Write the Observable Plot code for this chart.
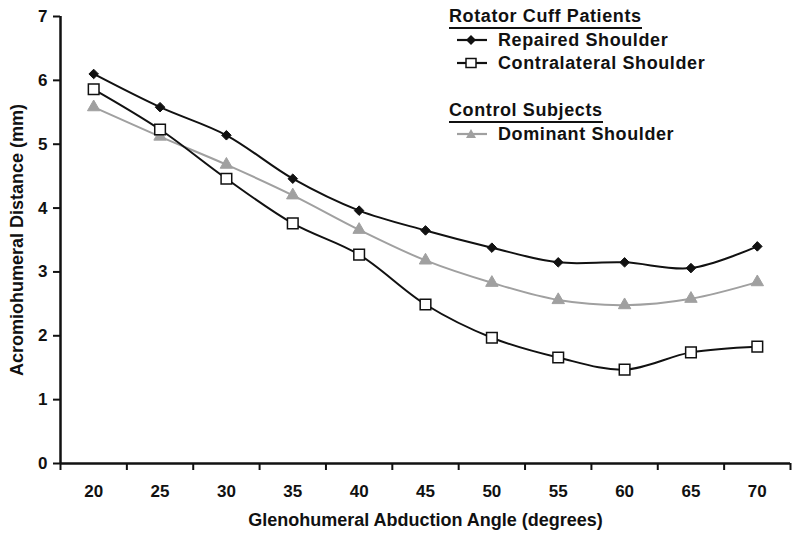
<!DOCTYPE html>
<html>
<head>
<meta charset="utf-8">
<script src="https://cdn.jsdelivr.net/npm/d3@7"></script>
<script src="https://cdn.jsdelivr.net/npm/@observablehq/plot@0.6"></script>
<style>
  html, body { margin: 0; padding: 0; background: #fff; }
  #wrap { position: relative; width: 800px; height: 537px; font-family: "Liberation Sans", Arial, sans-serif; font-weight: bold; color: #111; }
  .lg { position: absolute; font-size: 18px; line-height: 20px; height: 20px; white-space: nowrap; letter-spacing: 0.6px; }
  .hd { border-bottom: 2px solid #111; padding-bottom: 1px; }
  .sym { position: absolute; }
</style>
</head>
<body>
<div id="wrap"></div>
<script>
const angles = [20, 25, 30, 35, 40, 45, 50, 55, 60, 65, 70];
const repaired = [6.10, 5.58, 5.14, 4.46, 3.96, 3.65, 3.38, 3.15, 3.15, 3.06, 3.40];
const contralateral = [5.86, 5.23, 4.46, 3.76, 3.27, 2.49, 1.97, 1.66, 1.47, 1.74, 1.83];
const dominant = [5.58, 5.12, 4.68, 4.20, 3.66, 3.18, 2.83, 2.56, 2.48, 2.58, 2.84];
const yTicks = [0, 1, 2, 3, 4, 5, 6, 7];
const xBounds = angles.map(a => a - 2.5).concat([72.5]);

const mk = (vals) => angles.map((a, i) => ({x: a, y: vals[i]}));
const dRep = mk(repaired), dCon = mk(contralateral), dDom = mk(dominant);
const GRAY = "#a0a0a0";

const chart = Plot.plot({
  width: 800,
  height: 537,
  marginLeft: 60,
  marginRight: 10,
  marginTop: 16,
  marginBottom: 74,
  style: {fontFamily: '"Liberation Sans", Arial, sans-serif', fontWeight: "bold", fontSize: "17px", color: "#111", background: "transparent"},
  x: {domain: [17.5, 72.5]},
  y: {domain: [0, 7]},
  marks: [
    Plot.axisX({ticks: xBounds, tickSize: 7, tickFormat: () => "", strokeWidth: 2, label: null}),
    Plot.axisX({ticks: angles, tickSize: 0, tickPadding: 21, fontSize: 17, tickFormat: "d", label: "Glenohumeral Abduction Angle (degrees)", labelAnchor: "center", labelArrow: "none", labelOffset: 62}),
    Plot.axisY({ticks: yTicks, tickSize: 7, tickPadding: 6, strokeWidth: 2, fontSize: 17, tickFormat: "d", label: "Acromiohumeral Distance (mm)", labelAnchor: "center", labelArrow: "none", labelOffset: 50}),
    Plot.ruleX([17.5], {strokeWidth: 2.5, stroke: "#111"}),
    Plot.ruleY([0], {strokeWidth: 2.5, stroke: "#111"}),
    Plot.line(dDom, {x: "x", y: "y", stroke: GRAY, strokeWidth: 2, curve: "catmull-rom"}),
    Plot.line(dCon, {x: "x", y: "y", stroke: "#111", strokeWidth: 2, curve: "catmull-rom"}),
    Plot.line(dRep, {x: "x", y: "y", stroke: "#111", strokeWidth: 2, curve: "catmull-rom"}),
    Plot.dot(dDom, {x: "x", y: "y", symbol: "triangle", r: 4.6, fill: GRAY, stroke: GRAY, strokeWidth: 1}),
    Plot.dot(dCon, {x: "x", y: "y", symbol: "square", r: 6, fill: "#fff", stroke: "#111", strokeWidth: 1.5}),
    Plot.dot(dRep, {x: "x", y: "y", symbol: "diamond2", r: 4.3, fill: "#111", stroke: "#111", strokeWidth: 1})
  ]
});
chart.querySelectorAll("[aria-label='y-axis label'] text, [aria-label='x-axis label'] text").forEach(t => t.setAttribute("font-size", "18"));
const wrap = document.getElementById("wrap");
wrap.appendChild(chart);

function sym(kind) {
  const c = kind === "dom" ? GRAY : "#111";
  let m = "";
  if (kind === "rep") m = `<path d="M15,4 L20,9 L15,14 L10,9 Z" fill="#111"/>`;
  if (kind === "con") m = `<rect x="10" y="4.5" width="10" height="9" fill="#fff" stroke="#111" stroke-width="1.5"/>`;
  if (kind === "dom") m = `<path d="M15,4 L20,13 L10,13 Z" fill="${GRAY}"/>`;
  return `<svg width="32" height="18" viewBox="0 0 32 18"><line x1="1" y1="9" x2="31" y2="9" stroke="${c}" stroke-width="2.2"/>${m}</svg>`;
}
const legend = [
  {t: "Rotator Cuff Patients", cy: 16, hd: true},
  {t: "Repaired Shoulder", cy: 40, s: "rep"},
  {t: "Contralateral Shoulder", cy: 63, s: "con"},
  {t: "Control Subjects", cy: 110, hd: true},
  {t: "Dominant Shoulder", cy: 134, s: "dom"}
];
for (const e of legend) {
  const d = document.createElement("div");
  d.className = "lg" + (e.hd ? " hd" : "");
  d.style.left = (e.hd ? 449 : 498) + "px";
  d.style.top = (e.cy - 10) + "px";
  d.textContent = e.t;
  wrap.appendChild(d);
  if (e.s) {
    const s = document.createElement("div");
    s.className = "sym";
    s.style.left = "456px";
    s.style.top = (e.cy - 9) + "px";
    s.innerHTML = sym(e.s);
    wrap.appendChild(s);
  }
}
</script>
</body>
</html>
